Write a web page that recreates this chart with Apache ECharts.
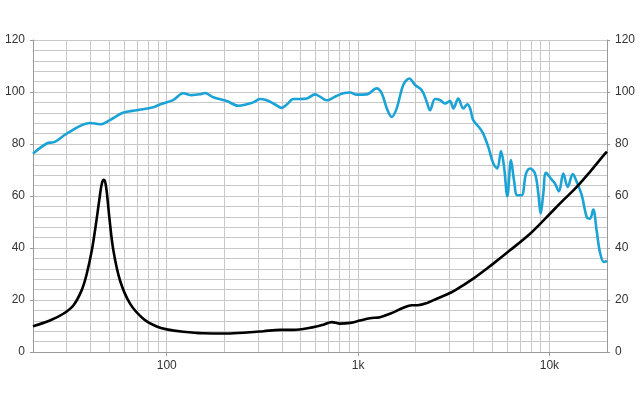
<!DOCTYPE html>
<html><head><meta charset="utf-8">
<script src="https://cdn.jsdelivr.net/npm/echarts@6/dist/echarts.min.js"></script>
<style>html,body{margin:0;padding:0;background:#fff}#c{width:640px;height:400px}</style>
</head><body><div id="c"></div>
<script>
const splFreq = [20, 23.6, 26, 30, 39.7, 44.8, 50.5, 59, 69.7, 85, 92, 108, 122, 135, 149, 158, 175, 206, 237, 262, 283, 307, 333, 368, 399, 424, 459, 497, 540, 596, 632, 686, 757, 837, 908, 984, 1109, 1251, 1330, 1413, 1500, 1592, 1723, 1853, 1985, 2153, 2286, 2379, 2525, 2681, 2847, 3022, 3148, 3340, 3547, 3723, 3850, 4000, 4338, 4510, 4793, 5090, 5344, 5585, 5794, 6027, 6299, 6529, 6791, 7160, 7546, 7923, 8412, 8751, 9000, 9290, 9600, 10280, 10690, 11220, 11820, 12470, 13240, 13900, 14760, 15670, 16300, 16950, 17650, 18370, 19280, 20000];
const splDb = [76.3, 80.2, 80.8, 84.0, 88.1, 87.6, 89.2, 92.0, 93.0, 94.1, 95.2, 96.9, 99.5, 98.8, 99.1, 99.6, 98.0, 96.5, 94.7, 95.3, 96.0, 97.3, 96.8, 95.2, 93.9, 95.2, 97.3, 97.3, 97.5, 99.1, 98.2, 96.8, 98.2, 99.5, 99.8, 99.0, 99.1, 101.4, 99.5, 93.7, 90.4, 93.7, 102.7, 105.2, 102.7, 100.7, 96.2, 93.0, 97.3, 96.9, 95.6, 96.5, 93.7, 97.5, 93.7, 95.3, 93.7, 89.2, 86.0, 84.0, 78.9, 72.5, 70.6, 77.3, 71.2, 59.9, 73.8, 66.1, 60.3, 60.3, 68.6, 70.6, 68.6, 60.9, 53.2, 60.9, 68.9, 66.3, 64.8, 61.8, 68.6, 63.5, 68.4, 65.4, 60.3, 51.9, 51.3, 54.8, 46.8, 38.4, 34.6, 35.0];
const impFreq = [20, 24.5, 28.8, 32.5, 35.9, 38.2, 40.6, 42.7, 44.8, 45.8, 46.8, 47.7, 48.6, 50.1, 52.6, 57, 64.3, 75.4, 88.6, 100, 122, 155, 206, 272, 320, 391, 459, 561, 658, 728, 805, 908, 1023, 1154, 1301, 1468, 1723, 1906, 2050, 2286, 2577, 2906, 3210, 4000, 5090, 6223, 7923, 9680, 11820, 13900, 16300, 19540, 20000];
const impOhm = [9.9, 12.1, 14.7, 17.9, 23.7, 30.1, 39.1, 49.4, 60.5, 64.8, 66.2, 65.3, 61.5, 51.9, 39.1, 27.5, 18.6, 12.8, 9.8, 8.7, 7.8, 7.2, 7.1, 7.6, 8.0, 8.5, 8.5, 9.3, 10.5, 11.5, 10.9, 11.2, 12.1, 13.0, 13.4, 14.7, 17.0, 18.0, 18.0, 18.8, 20.5, 22.1, 23.7, 28.2, 34.0, 39.1, 45.5, 51.9, 58.4, 63.5, 69.3, 76.3, 77.0];
const gridFreqs = [30,40,50,60,70,80,90,100,200,300,400,500,600,700,800,900,1000,2000,3000,4000,5000,6000,7000,8000,9000,10000];
const xLabels = {100:'100', 1000:'1k', 10000:'10k'};

const zip = (a, b) => a.map((v, i) => [v, b[i]]);
const gridColor = '#c8c8c8';
const labelStyle = {color:'#333', fontFamily:'Liberation Sans, Arial', fontSize:12};
const chart = echarts.init(document.getElementById('c'), null, {renderer:'canvas'});
chart.setOption({
  animation:false,
  grid:{left:33, right:33, top:40, bottom:48, containLabel:false},
  xAxis:{type:'log', logBase:10, min:20, max:20000,
    axisLine:{lineStyle:{color:'#999'}},
    axisTick:{show:true, length:4, lineStyle:{color:'#999'}},
    axisLabel:Object.assign({margin:8, showMinLabel:false, showMaxLabel:false,
      formatter:v => xLabels[Math.round(v)] || ''}, labelStyle),
    splitLine:{show:false}},
  yAxis:[
    {type:'value', min:0, max:120, interval:20, position:'left',
     axisLine:{show:true, lineStyle:{color:'#999'}},
     axisTick:{show:true, length:3, lineStyle:{color:'#999'}},
     axisLabel:Object.assign({margin:8}, labelStyle),
     splitLine:{show:true, lineStyle:{color:gridColor, width:1}},
     minorTick:{show:false, splitNumber:5},
     minorSplitLine:{show:true, lineStyle:{color:gridColor, width:1}}},
    {type:'value', min:0, max:120, interval:20, position:'right',
     axisLine:{show:true, lineStyle:{color:'#999'}},
     axisTick:{show:true, length:3, lineStyle:{color:'#999'}},
     axisLabel:Object.assign({margin:8}, labelStyle),
     splitLine:{show:false}}
  ],
  series:[
    {type:'line', name:'SPL', yAxisIndex:0, data:zip(splFreq, splDb), showSymbol:false, smooth:0.35,
     lineStyle:{color:'#1ba3d6', width:2.6}, z:3,
     markLine:{silent:true, symbol:['none','none'], label:{show:false},
       lineStyle:{color:gridColor, width:1, type:'solid'},
       data:gridFreqs.map(f => ({xAxis:f})), z:1}},
    {type:'line', name:'Impedance', yAxisIndex:1, data:zip(impFreq, impOhm), showSymbol:false, smooth:0.35,
     lineStyle:{color:'#000', width:2.6}, z:4}
  ]
});
</script></body></html>
